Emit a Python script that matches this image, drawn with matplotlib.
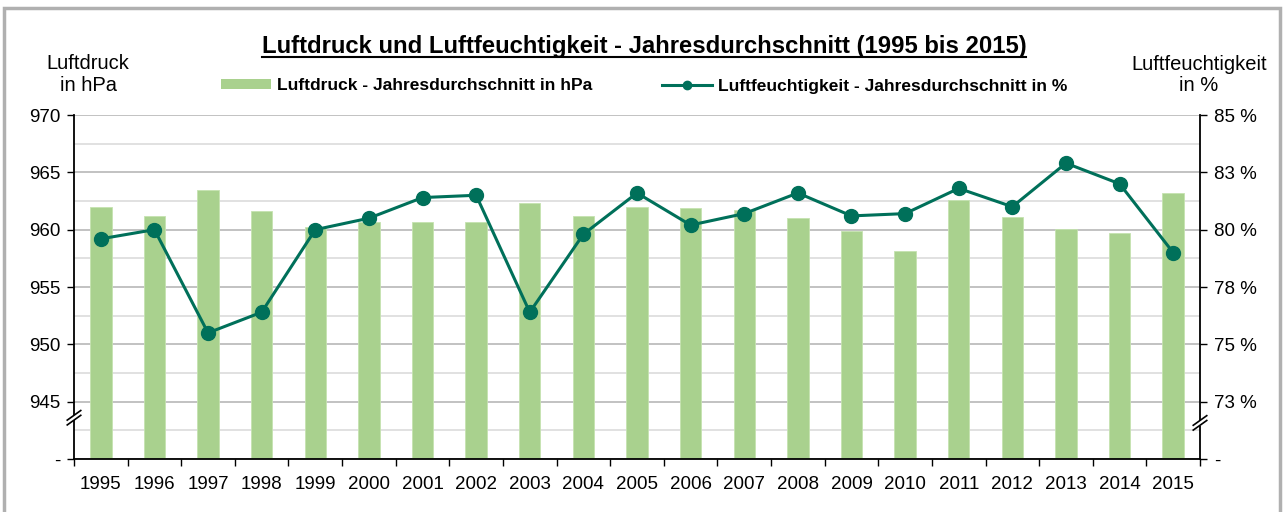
import matplotlib
matplotlib.use("Agg")
import matplotlib.pyplot as plt
from matplotlib.lines import Line2D
from matplotlib.patches import Patch, Rectangle
import numpy as np

years = ["1995", "1996", "1997", "1998", "1999", "2000", "2001", "2002", "2003", "2004",
         "2005", "2006", "2007", "2008", "2009", "2010", "2011", "2012", "2013", "2014", "2015"]
pressure_hpa = [962.0, 961.2, 963.5, 961.6, 960.2, 960.7, 960.7, 960.7, 962.3, 961.2,
                962.0, 961.9, 961.7, 961.0, 959.9, 958.1, 962.6, 961.1, 960.1, 959.7, 963.2]
humidity_pct = [79.6, 80.0, 75.5, 76.4, 80.0, 80.5, 81.4, 81.5, 76.4, 79.8,
                81.6, 80.2, 80.7, 81.6, 80.6, 80.7, 81.8, 81.0, 82.9, 82.0, 79.0]

left_ticks = [940, 945, 950, 955, 960, 965, 970]
left_labels = ["-", "945", "950", "955", "960", "965", "970"]
right_ticks = [70, 72.5, 75, 77.5, 80, 82.5, 85]
right_labels = ["-", "73 %", "75 %", "78 %", "80 %", "83 %", "85 %"]

title = "Luftdruck und Luftfeuchtigkeit - Jahresdurchschnitt (1995 bis 2015)"
bar_label = "Luftdruck - Jahresdurchschnitt in hPa"
line_label = "Luftfeuchtigkeit - Jahresdurchschnitt in %"

BAR_C = "#a9d18e"
LINE_C = "#00705a"

plt.rcParams["font.family"] = ["Liberation Sans", "DejaVu Sans"]

W, H = 1283, 512
fig = plt.figure(figsize=(W / 100, H / 100), dpi=100)
L, R, T, B = 74, 1200, 115, 459
ax = fig.add_axes([L / W, 1 - B / H, (R - L) / W, (B - T) / H])

x = np.arange(len(years))
ax.bar(x, pressure_hpa, width=0.4, color=BAR_C, edgecolor="#c5e3b0", linewidth=0.6, zorder=2)
ax.set_ylim(940, 970)
ax.set_xlim(-0.5, len(years) - 0.5)
ax.set_yticks(left_ticks)
ax.set_yticklabels(left_labels)
ax.set_yticks(np.arange(942.5, 970, 5), minor=True)
ax.set_axisbelow(True)
ax.grid(axis="y", which="major", color="#bdbdbd", linewidth=1.3)
ax.grid(axis="y", which="minor", color="#dedede", linewidth=1.3)
ax.set_xticks(x)
ax.set_xticklabels(years)
ax.set_xticks(np.arange(-0.5, len(years), 1), minor=True)
ax.tick_params(axis="x", which="major", length=0, pad=12, labelsize=13.5)
ax.tick_params(axis="x", which="minor", length=5, width=1, direction="out")
ax.tick_params(axis="y", which="major", length=5, width=1, direction="out", labelsize=13.5, pad=5)
ax.tick_params(axis="y", which="minor", length=0)
for s in ("left", "bottom"):
    ax.spines[s].set_linewidth(1.3)
ax.spines["top"].set_visible(False)
ax.spines["right"].set_visible(False)

ax2 = ax.twinx()
ax2.plot(x, humidity_pct, color=LINE_C, linewidth=2.2, marker="o", markersize=10, zorder=3)
ax2.set_ylim(70, 85)
ax2.set_yticks(right_ticks)
ax2.set_yticklabels(right_labels)
ax2.tick_params(axis="y", length=5, width=1, direction="out", labelsize=13.5, pad=5)
ax2.spines["right"].set_linewidth(1.3)
for s in ("top", "left", "bottom"):
    ax2.spines[s].set_visible(False)

# axis break marks
def brk(axis_obj, xa, ya):
    d = 0.014
    axis_obj.add_patch(Rectangle((xa - 0.004, ya - 0.008), 0.008, 0.016, transform=axis_obj.transAxes,
                                 facecolor="white", edgecolor="none", clip_on=False, zorder=9))
    for off in (-0.007, 0.007):
        axis_obj.plot([xa - 0.006, xa + 0.006], [ya + off - d, ya + off + d], transform=axis_obj.transAxes,
                      color="black", lw=1.2, clip_on=False, zorder=10)
brk(ax2, 0.0, 0.12)
brk(ax2, 1.0, 0.105)

fig.text(644 / W, 1 - 53 / H, title, ha="center", va="baseline", fontsize=17.2, fontweight="bold")
fig.add_artist(Line2D([262 / W, 1026 / W], [1 - 56.5 / H, 1 - 56.5 / H], color="black", lw=1.5))

fig.text(88 / W, 1 - 69 / H, "Luftdruck", ha="center", va="baseline", fontsize=14.5)
fig.text(88 / W, 1 - 91 / H, "in hPa", ha="center", va="baseline", fontsize=14.5)
fig.text(1199 / W, 1 - 70 / H, "Luftfeuchtigkeit", ha="center", va="baseline", fontsize=14.5)
fig.text(1199 / W, 1 - 91 / H, "in %", ha="center", va="baseline", fontsize=14.5)

handles = [Patch(facecolor=BAR_C, edgecolor="none"),
           Line2D([0], [0], color=LINE_C, lw=2.2, marker="o", markersize=6)]
fig.legend(handles, [bar_label, line_label], loc="center", bbox_to_anchor=(644 / W, 1 - 86 / H),
           ncol=2, frameon=False, prop={"weight": "bold", "size": 12.5}, handlelength=2.9,
           handleheight=0.5, handletextpad=0.35, columnspacing=4.0, borderpad=0, borderaxespad=0)

fig.add_artist(Rectangle((4 / W, -0.05), (1280 - 4) / W, 1.05 - 8 / H, transform=fig.transFigure,
                         facecolor="none", edgecolor="#b0b0b0", lw=2.5))

fig.savefig("out.png", dpi=100)
